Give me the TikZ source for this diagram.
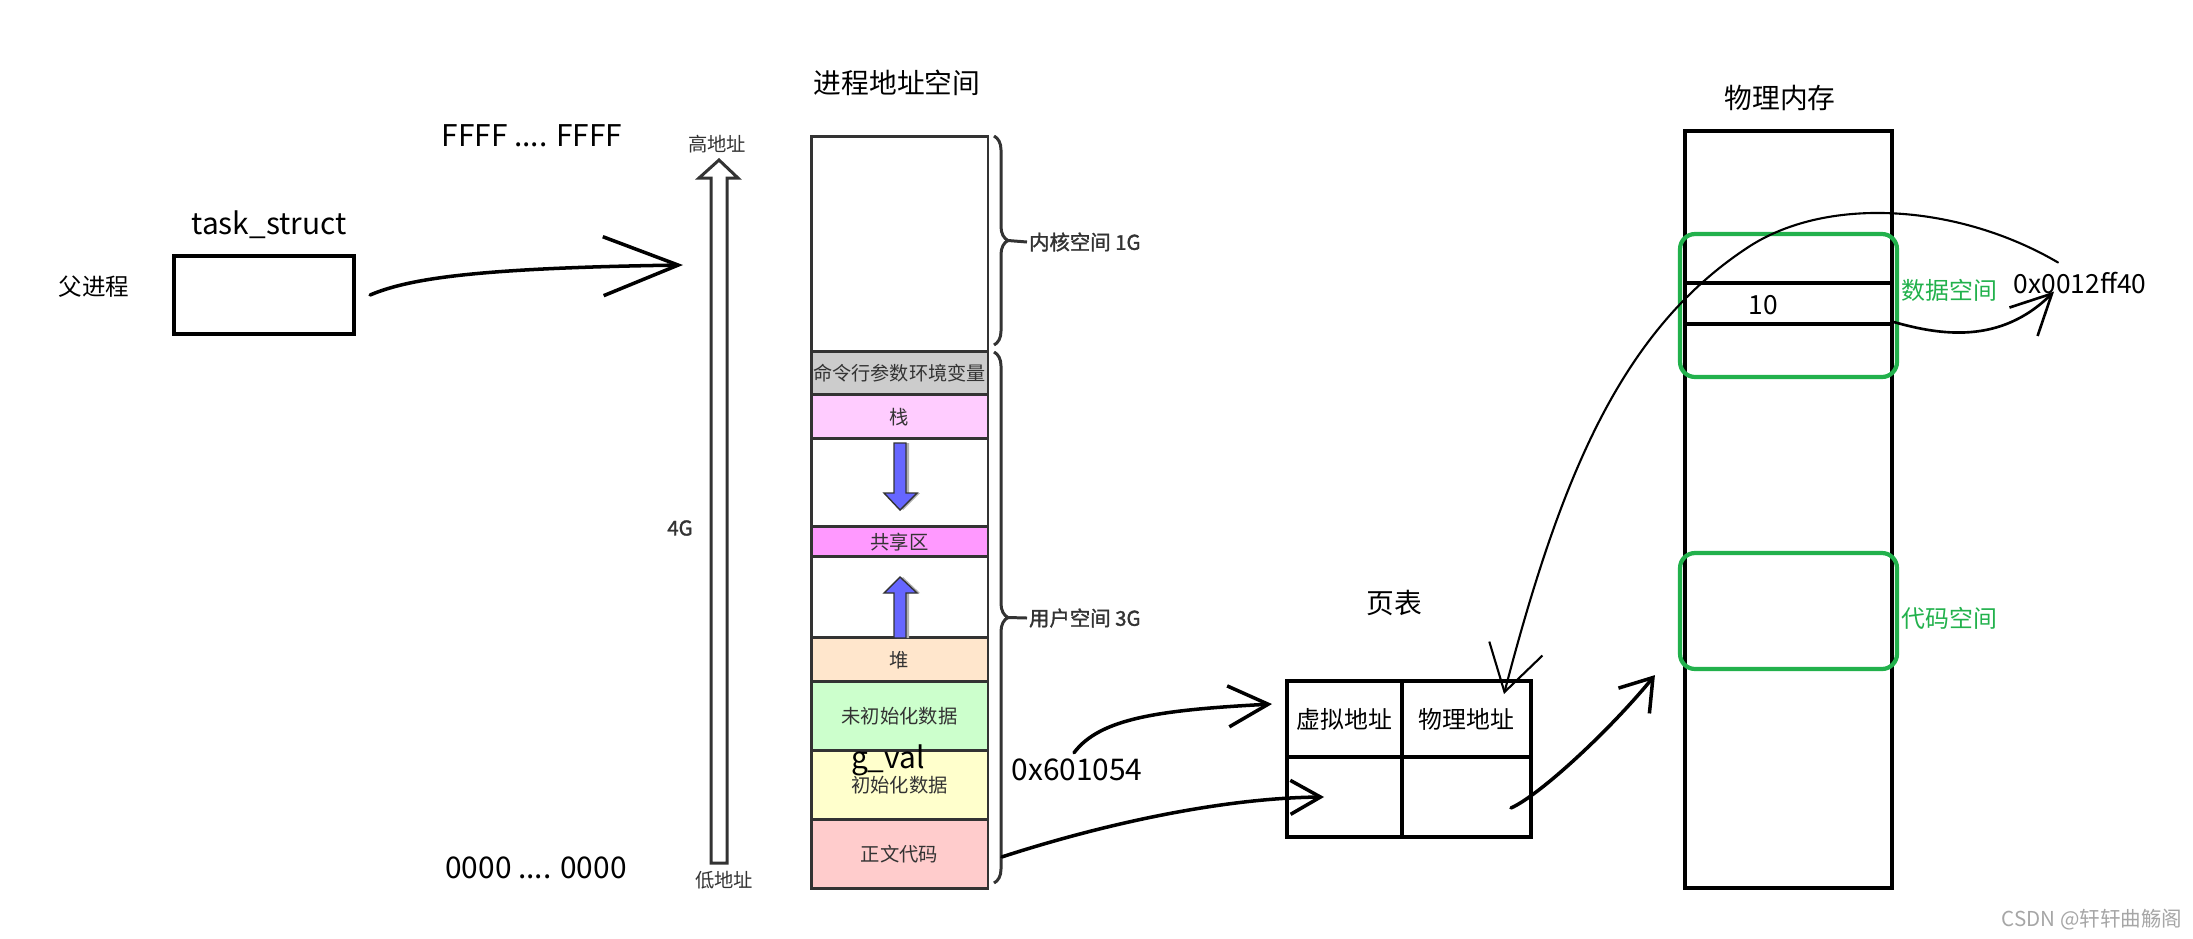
\documentclass[tikz,border=0pt]{standalone}
\usepackage{fontspec}
\usepackage{xcolor}
\usepackage{tikz}
\usetikzlibrary{positioning,arrows.meta,decorations.pathreplacing}
\newfontfamily\cjk{Noto Sans CJK SC}
\newfontfamily\cjkbold[FakeBold=1.6]{Noto Sans CJK SC}
\definecolor{segline}{HTML}{333333}
\definecolor{cmdgray}{HTML}{CCCCCC}
\definecolor{stackpink}{HTML}{FFCCFF}
\definecolor{sharepink}{HTML}{FF99FF}
\definecolor{heapcol}{HTML}{FFE6CC}
\definecolor{bsscol}{HTML}{CCFFCC}
\definecolor{datacol}{HTML}{FFFFCC}
\definecolor{textcol}{HTML}{FFCCCC}
\definecolor{growblue}{HTML}{6666FF}
\definecolor{paintgreen}{HTML}{22B14C}

\begin{document}
\begin{tikzpicture}[
  x=0.02cm, y=-0.02cm,
  font=\cjk,
  headlbl/.style={font=\cjk\fontsize{15.8}{18}\selectfont},
  latlbl/.style={font=\cjk\fontsize{17}{20}\selectfont},
  seglbl/.style={font=\cjk\fontsize{11}{13}\selectfont, text=segline},
  bracelbl/.style={font=\cjkbold\fontsize{11.6}{13}\selectfont, text=segline, anchor=west, inner sep=1pt},
  seg/.style={draw=segline, line width=1.7pt, minimum width=3.54cm, inner sep=0pt, outer sep=0pt, seglbl},
  cell/.style={draw, line width=2.2pt, inner sep=0pt, outer sep=0pt, font=\cjk\fontsize{13.6}{16}\selectfont},
  greenbox/.style={draw=paintgreen, line width=2.4pt, rounded corners=0.3cm, minimum width=4.34cm},
  greenlbl/.style={font=\cjk\fontsize{13.6}{16}\selectfont, text=paintgreen, anchor=west, inner sep=0pt},
  handarr/.style={line width=2pt, line cap=round, line join=round},
  growarr/.style={draw=segline, line width=0.8pt, fill=growblue},
  brc/.style={draw=segline, line width=1.7pt, decorate, decoration={brace, amplitude=0.28cm}},
]
\useasboundingbox (0,0) rectangle (2193,938);

% parent process
\node[font=\cjk\fontsize{13.4}{16}\selectfont] (parent) at (94,287) {父进程};
\node[draw, line width=2.4pt, minimum width=3.6cm, minimum height=1.56cm] (task) at (264,295) {};
\node[latlbl] (tasklbl) at (269,225) {task\_struct};

% virtual address space
\node[headlbl] (vastitle) at (897,83) {进程地址空间};
\node[latlbl] (himark) at (532,136) {FFFF .... FFFF};
\node[latlbl] (lomark) at (536,868) {0000 .... 0000};
\node[seglbl] (hiaddr) at (717,144) {高地址};
\node[seglbl] (loaddr) at (724,880) {低地址};
\node[bracelbl, anchor=center] (fourg) at (680,528) {4G};
\draw[draw=segline, line width=1.7pt, fill=white] (711,863) -- (711,178) -- (699,178) -- (719,160)
  -- (738,178) -- (727,178) -- (727,863) -- cycle;

\node[seg, minimum height=4.32cm] (kernel) at (899.5,244) {};
\node[seg, below=0pt of kernel, fill=cmdgray, minimum height=0.86cm, font=\cjk\fontsize{10.9}{13}\selectfont] (cmdenv) {命令行参数环境变量};
\node[seg, below=0pt of cmdenv, fill=stackpink, minimum height=0.88cm] (stack) {栈};
\node[seg, below=0pt of stack, minimum height=1.76cm] (gapa) {};
\node[seg, below=0pt of gapa, fill=sharepink, minimum height=0.60cm] (shared) {共享区};
\node[seg, below=0pt of shared, minimum height=1.62cm] (gapb) {};
\node[seg, below=0pt of gapb, fill=heapcol, minimum height=0.88cm] (heap) {堆};
\node[seg, below=0pt of heap, fill=bsscol, minimum height=1.38cm] (bss) {未初始化数据};
\node[seg, below=0pt of bss, fill=datacol, minimum height=1.38cm] (initdata) {初始化数据};
\node[seg, below=0pt of initdata, fill=textcol, minimum height=1.38cm] (code) {正文代码};

% stack grows down, heap grows up
\fill[gray!60] (897,443) -- (909,443) -- (909,493) -- (920,493) -- (903,510) -- (887,493) -- (897,493) -- cycle;
\draw[growarr] (894,443) -- (906,443) -- (906,493) -- (917,493) -- (900,510) -- (884,493) -- (894,493) -- cycle;
\fill[gray!60] (897,638) -- (897,593) -- (887,593) -- (903,577) -- (920,593) -- (909,593) -- (909,638) -- cycle;
\draw[growarr] (894,638) -- (894,593) -- (884,593) -- (900,577) -- (917,593) -- (906,593) -- (906,638) -- cycle;

\draw[brc] (994,136) -- (994,345);
\draw[brc] (994,352) -- (994,883);
\coordinate (ktip) at (1008,240.5);
\coordinate (utip) at (1008,617.5);
\node[bracelbl] (klbl) at (1027,242) {内核空间 1G};
\node[bracelbl] (ulbl) at (1027,618) {用户空间 3G};
\draw[segline, line width=1.7pt] (ktip) -- (klbl.west);
\draw[segline, line width=1.7pt] (utip) -- (ulbl.west);

\node[latlbl] (gval) at (888,760) {g\_val};
\node[latlbl] (vaddr) at (1077,770) {0x601054};

% page table
\node[headlbl] (pttitle) at (1394,603) {页表};
\node[cell, minimum width=2.3cm, minimum height=1.52cm] (vcell) at (1344.5,719) {虚拟地址};
\node[cell, right=0pt of vcell, minimum width=2.58cm, minimum height=1.52cm] (pcell) {物理地址};
\node[cell, below=0pt of vcell, minimum width=2.3cm, minimum height=1.6cm] (vcell2) {};
\node[cell, below=0pt of pcell, minimum width=2.58cm, minimum height=1.6cm] (pcell2) {};

% physical memory
\node[headlbl] (memtitle) at (1780,98) {物理内存};
\node[draw, line width=2.4pt, minimum width=4.14cm, minimum height=15.14cm, inner sep=0pt, outer sep=0pt] (mem) at (1788.5,509.5) {};
\node[draw, line width=2.4pt, minimum width=4.14cm, minimum height=0.82cm] (tencell) at (1788.5,303.5) {};
\node[font=\cjk\fontsize{15}{18}\selectfont] (tenval) at (1763,305) {10};
\node[greenbox, minimum height=2.86cm] (dataspace) at (1788.5,305.5) {};
\node[greenbox, minimum height=2.32cm] (codespace) at (1788.5,611) {};
\node[greenlbl] (datalbl) at (1901,290) {数据空间};
\node[greenlbl] (codelbl) at (1901,618) {代码空间};
\node[font=\cjk\fontsize{15}{18}\selectfont] (ffaddr) at (2080,283) {0x0012ff40};

\node[font=\cjk\fontsize{11.7}{14}\selectfont, text=gray!70] (mark) at (2092,920) {CSDN @轩轩曲觞阁};

% hand drawn arrows
\coordinate (vtarget) at (683,265);
\coordinate (bend) at (1750,246);
\draw[handarr, -{Straight Barb[length=1.5cm,width=1.18cm]}] ([xshift=0.28cm]task.east)
  .. controls (410,278) and (480,268) .. (vtarget);
\draw[handarr, -{Straight Barb[length=0.8cm,width=0.82cm]}] ([xshift=-0.06cm]vaddr.north)
  .. controls (1100,718) and (1160,710) .. ([xshift=-0.3cm, yshift=0.3cm]vcell.west);
\draw[handarr, -{Straight Barb[length=0.6cm,width=0.68cm]}] ([xshift=0.28cm, yshift=-0.05cm]code.east)
  .. controls (1100,825) and (1220,798) .. ([xshift=0.74cm]vcell2.west);
\draw[handarr, -{Straight Barb[length=0.6cm,width=0.8cm]}] ([xshift=0.89cm, yshift=-0.22cm]pcell2.center)
  .. controls (1540,795) and (1610,730) .. ([xshift=-0.46cm, yshift=-0.08cm]codespace.south west);
\draw[handarr, line width=1.2pt, -{Straight Barb[length=0.9cm,width=1.1cm]}] ([xshift=-0.44cm, yshift=0.07cm]ffaddr.north)
  .. controls (1960,205) and (1830,195) .. (bend)
  .. controls (1620,330) and (1560,480) .. ([xshift=0.75cm, yshift=-0.26cm]pcell.north);
\draw[handarr, line width=1.5pt, -{Straight Barb[length=0.8cm,width=0.8cm]}] ([yshift=0.08cm]tencell.south east)
  .. controls (1940,335) and (2000,345) .. ([xshift=-0.52cm, yshift=0.17cm]ffaddr.south);
\end{tikzpicture}
\end{document}
